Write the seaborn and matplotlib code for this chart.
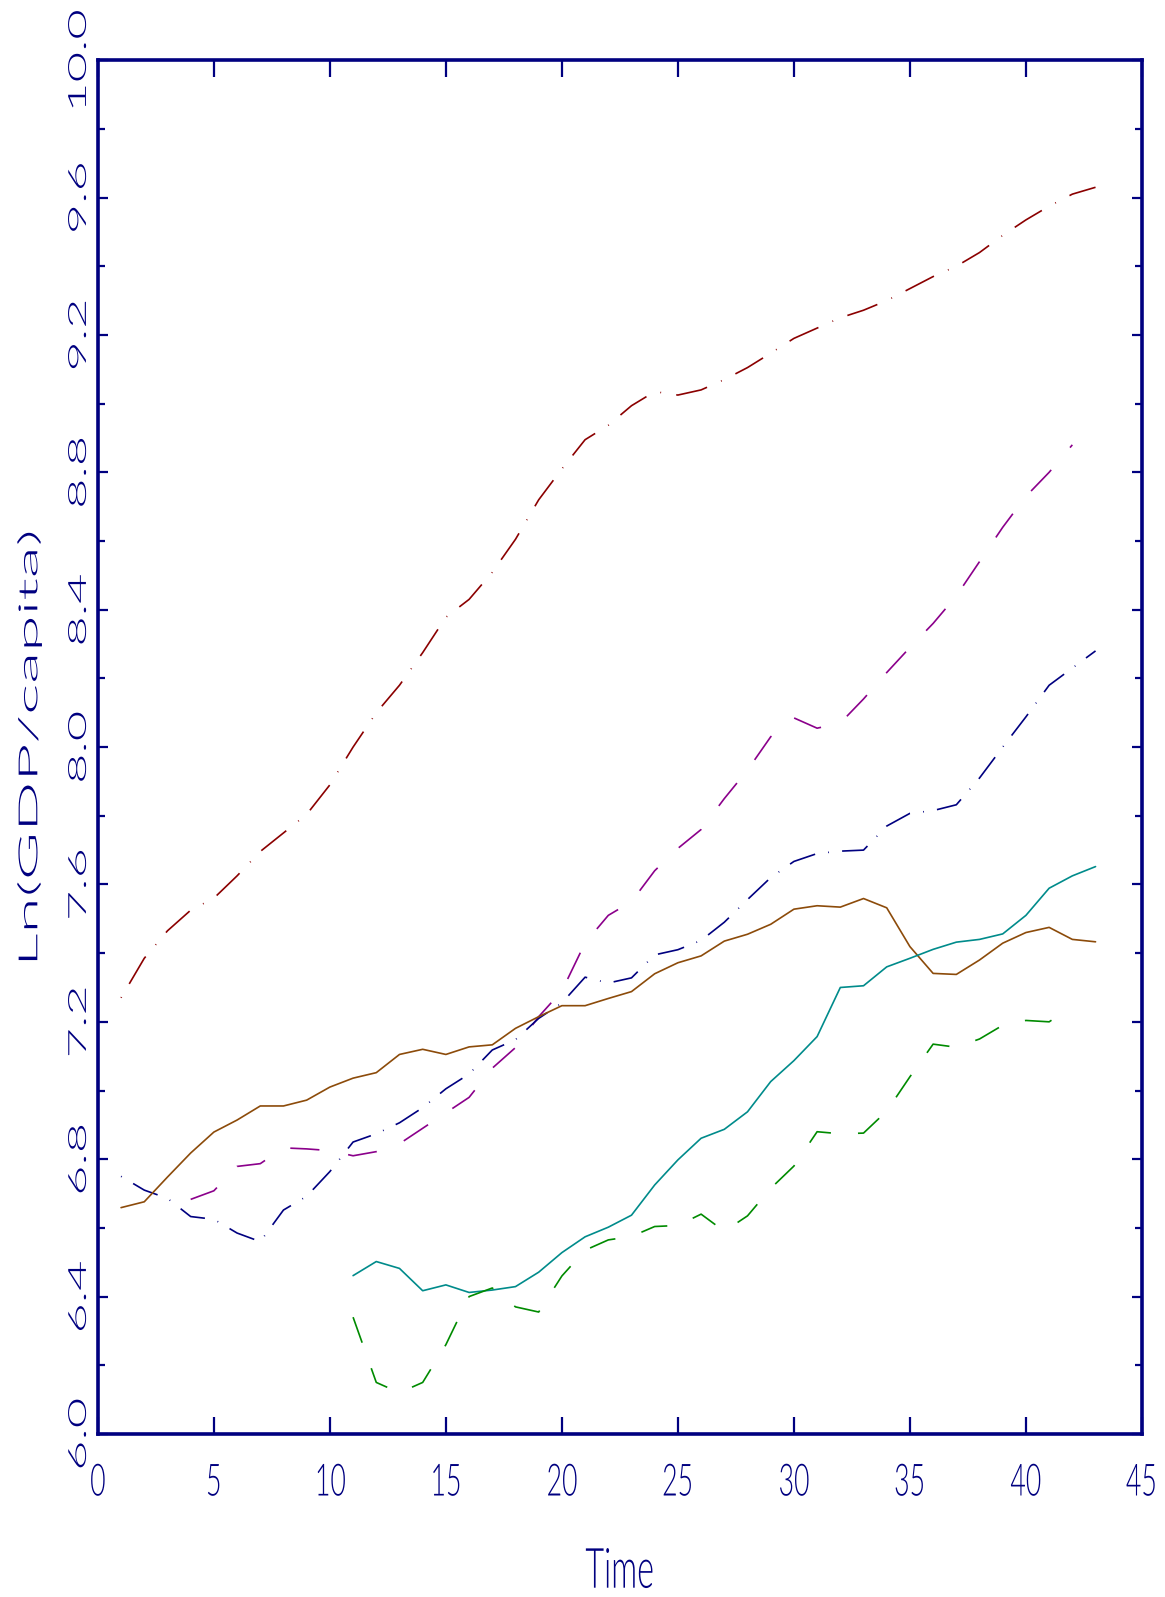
import numpy as np
import pandas as pd
import matplotlib
matplotlib.use("Agg")
import matplotlib.pyplot as plt
import seaborn as sns
from matplotlib import patheffects
from matplotlib.transforms import Affine2D
from matplotlib.ticker import MultipleLocator

# log GDP per capita paths
red_x = list(range(1, 44))
red_y = [7.27, 7.385, 7.465, 7.525, 7.56, 7.625, 7.696, 7.75, 7.804, 7.89,
         8.0, 8.10, 8.18, 8.275, 8.378, 8.43, 8.509, 8.605, 8.72, 8.81,
         8.895, 8.937, 8.994, 9.035, 9.025, 9.04, 9.07, 9.105, 9.147, 9.19,
         9.22, 9.25, 9.272, 9.30, 9.335, 9.37, 9.40, 9.44, 9.49, 9.535,
         9.575, 9.61, 9.63]

purple_x = list(range(4, 43))
purple_y = [6.683, 6.708, 6.779, 6.787, 6.833, 6.83, 6.825, 6.81, 6.822, 6.845,
            6.89, 6.935, 6.98, 7.065, 7.125, 7.215, 7.29, 7.43, 7.51, 7.55,
            7.64, 7.705, 7.76, 7.85, 7.933, 8.03, 8.085, 8.055, 8.07, 8.14,
            8.217, 8.29, 8.36, 8.44, 8.54, 8.64, 8.73, 8.80, 8.88]

navy_x = list(range(1, 44))
navy_y = [6.75, 6.71, 6.686, 6.633, 6.625, 6.585, 6.56, 6.652, 6.692, 6.764,
          6.85, 6.874, 6.906, 6.95, 7.005, 7.048, 7.118, 7.148, 7.21, 7.255,
          7.33, 7.313, 7.328, 7.395, 7.41, 7.437, 7.49, 7.556, 7.62, 7.667,
          7.69, 7.697, 7.70, 7.77, 7.807, 7.815, 7.832, 7.91, 8.0, 8.088,
          8.18, 8.23, 8.28]

brown_x = list(range(1, 44))
brown_y = [6.659, 6.676, 6.748, 6.818, 6.879, 6.914, 6.955, 6.955, 6.972, 7.01,
           7.036, 7.052, 7.105, 7.12, 7.105, 7.127, 7.133, 7.181, 7.215, 7.247,
           7.247, 7.268, 7.288, 7.34, 7.372, 7.392, 7.435, 7.455, 7.484, 7.528,
           7.538, 7.534, 7.559, 7.532, 7.419, 7.341, 7.338, 7.38, 7.429, 7.46,
           7.475, 7.44, 7.433]

teal_x = list(range(11, 44))
teal_y = [6.461, 6.502, 6.482, 6.417, 6.434, 6.412, 6.419, 6.429, 6.471, 6.528,
          6.574, 6.602, 6.637, 6.725, 6.798, 6.861, 6.887, 6.938, 7.026, 7.087,
          7.157, 7.30, 7.305, 7.36, 7.385, 7.411, 7.432, 7.44, 7.456, 7.51,
          7.589, 7.625, 7.652]

green_x = list(range(11, 43))
green_y = [6.34, 6.15, 6.12, 6.15, 6.26, 6.40, 6.425, 6.37, 6.355, 6.46,
           6.535, 6.565, 6.575, 6.604, 6.607, 6.64, 6.59, 6.635, 6.715, 6.78,
           6.88, 6.874, 6.876, 6.94, 7.04, 7.135, 7.126, 7.15, 7.19, 7.204,
           7.20, 7.245]

yticks = [6.0, 6.4, 6.8, 7.2, 7.6, 8.0, 8.4, 8.8, 9.2, 9.6, 10.0]
xticks = [0, 5, 10, 15, 20, 25, 30, 35, 40, 45]

navy = "#000080"
thin = ["Lato", "DejaVu Sans"]


class Stretch(patheffects.AbstractPathEffect):
    # widen / narrow glyphs along the writing direction, keeping the centre
    def __init__(self, sx):
        super().__init__()
        self.sx = sx

    def draw_path(self, renderer, gc, tpath, affine, rgbFace=None):
        ext = tpath.get_extents()
        cx = (ext.x0 + ext.x1) / 2
        pre = Affine2D().translate(-cx, 0).scale(self.sx, 1).translate(cx, 0)
        renderer.draw_path(gc, tpath, pre + affine, rgbFace)


sns.set_style("white")
plt.rcParams["font.family"] = ["DejaVu Sans"]
plt.rcParams["lines.scale_dashes"] = False

fig = plt.figure(figsize=(11.65, 15.97), dpi=100)
ax = fig.add_axes([0.0840, 0.1021, 0.8962, 0.8602])

series = [
    (red_x, red_y, "#8B0000", (0, (0.6, 11, 23, 11))),
    (purple_x, purple_y, "#8B008B", (0, (21, 21))),
    (navy_x, navy_y, navy, (0, (0.6, 9.5, 19.5, 9.5))),
    (brown_x, brown_y, "#8C4B0A", "-"),
    (teal_x, teal_y, "#008B8B", "-"),
    (green_x, green_y, "#008B00", (0, (19.5, 19.5))),
]
for xs, ys, col, ls in series:
    sns.lineplot(x=xs, y=ys, color=col, linewidth=1.2, linestyle=ls, ax=ax)

ax.set_xlim(0, 45)
ax.set_ylim(6, 10)
ax.set_xticks(xticks, labels=[str(v) for v in xticks])
ax.set_yticks(yticks, labels=[f"{v:.1f}" for v in yticks])
ax.yaxis.set_minor_locator(MultipleLocator(0.2))

for s in ax.spines.values():
    s.set_color(navy)
    s.set_linewidth(2.6)

ax.tick_params(axis="x", which="major", direction="in", length=12.5, width=1.6,
               top=True, bottom=True, color=navy, labelcolor=navy,
               labelsize=32, pad=22)
ax.tick_params(axis="y", which="major", direction="in", length=7.5, width=1.6,
               left=True, right=True, color=navy, labelcolor=navy,
               labelsize=18, pad=5, labelrotation=90)
ax.tick_params(axis="y", which="minor", direction="in", length=4.8, width=1.6,
               left=True, right=True, color=navy)
for lbl in ax.get_yticklabels():
    lbl.set_va("center")
    lbl.set_fontfamily(thin)
    lbl.set_fontweight(300)
    lbl.set_path_effects([Stretch(2.1)])
for lbl in ax.get_xticklabels():
    lbl.set_fontfamily(thin)
    lbl.set_fontweight(300)
    lbl.set_path_effects([Stretch(0.6)])

ylab = ax.set_ylabel("Ln(GDP/capita)", fontsize=19, color=navy, ha="center",
                     va="center", family=thin, fontweight=300)
ylab.set_path_effects([Stretch(2.5)])
ax.yaxis.set_label_coords(-0.065, 0.5)
xlab = ax.set_xlabel("Time", fontsize=40, color=navy, ha="center", va="center",
                     family=thin, fontweight=300)
xlab.set_path_effects([Stretch(0.58)])
ax.xaxis.set_label_coords(0.5, -0.101)

fig.savefig("out.png", dpi=100)
